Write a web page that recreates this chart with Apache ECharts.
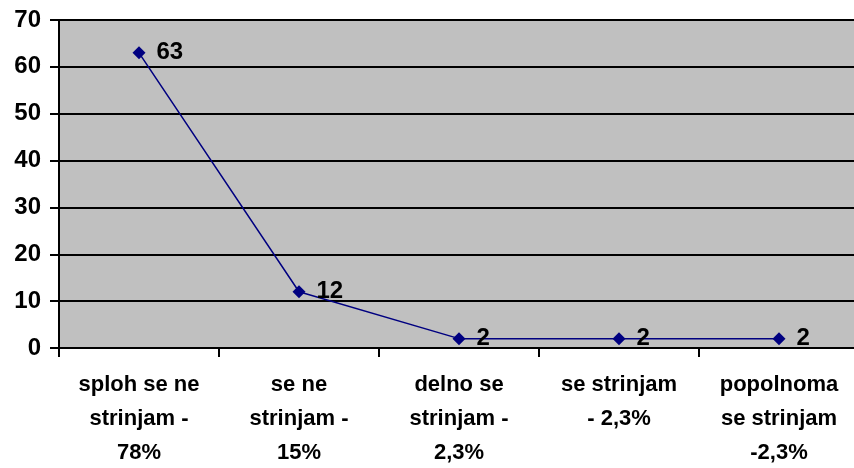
<!DOCTYPE html>
<html><head><meta charset="utf-8">
<script src="https://cdn.jsdelivr.net/npm/echarts@6/dist/echarts.min.js"></script>
<style>html,body{margin:0;padding:0;background:#fff}#c{width:854px;height:468px}</style>
</head><body><div id="c"></div>
<script>
const categories = ["sploh se ne\nstrinjam -\n78%", "se ne\nstrinjam -\n15%", "delno se\nstrinjam -\n2,3%", "se strinjam\n- 2,3%", "popolnoma\nse strinjam\n-2,3%"];
const values = [63, 12, 2, 2, 2];
const yTicks = {min: 0, max: 70, interval: 10};

const chart = echarts.init(document.getElementById('c'), null, {renderer: 'canvas'});
chart.setOption({
  animation: false,
  backgroundColor: '#ffffff',
  grid: {left: 59, top: 20, width: 800, height: 328, containLabel: false, outerBoundsMode: 'none', show: true, backgroundColor: '#c0c0c0', borderColor: '#808080', borderWidth: 2},
  xAxis: {
    type: 'category', data: categories, boundaryGap: true,
    axisLine: {show: true, lineStyle: {color: '#000', width: 2}},
    axisTick: {show: true, length: 9, interval: 0, lineStyle: {color: '#000', width: 2}},
    axisLabel: {interval: 0, margin: 20, color: '#000', fontFamily: 'Liberation Sans, Arial', fontWeight: 'bold', fontSize: 22, lineHeight: 34}
  },
  yAxis: {
    type: 'value', min: yTicks.min, max: yTicks.max, interval: yTicks.interval,
    axisLine: {show: true, lineStyle: {color: '#000', width: 2}},
    axisTick: {show: true, length: 9, lineStyle: {color: '#000', width: 2}},
    splitLine: {show: true, lineStyle: {color: '#000', width: 2}},
    axisLabel: {margin: 18, color: '#000', fontFamily: 'Liberation Sans, Arial', fontWeight: 'bold', fontSize: 24}
  },
  series: [{
    type: 'line', data: values,
    lineStyle: {color: '#000080', width: 1.5},
    itemStyle: {color: '#000080'},
    symbol: 'diamond', symbolSize: 13, showAllSymbol: true,
    label: {show: true, position: 'right', distance: 11, color: '#000', fontFamily: 'Liberation Sans, Arial', fontWeight: 'bold', fontSize: 24}
  }]
});
</script></body></html>
